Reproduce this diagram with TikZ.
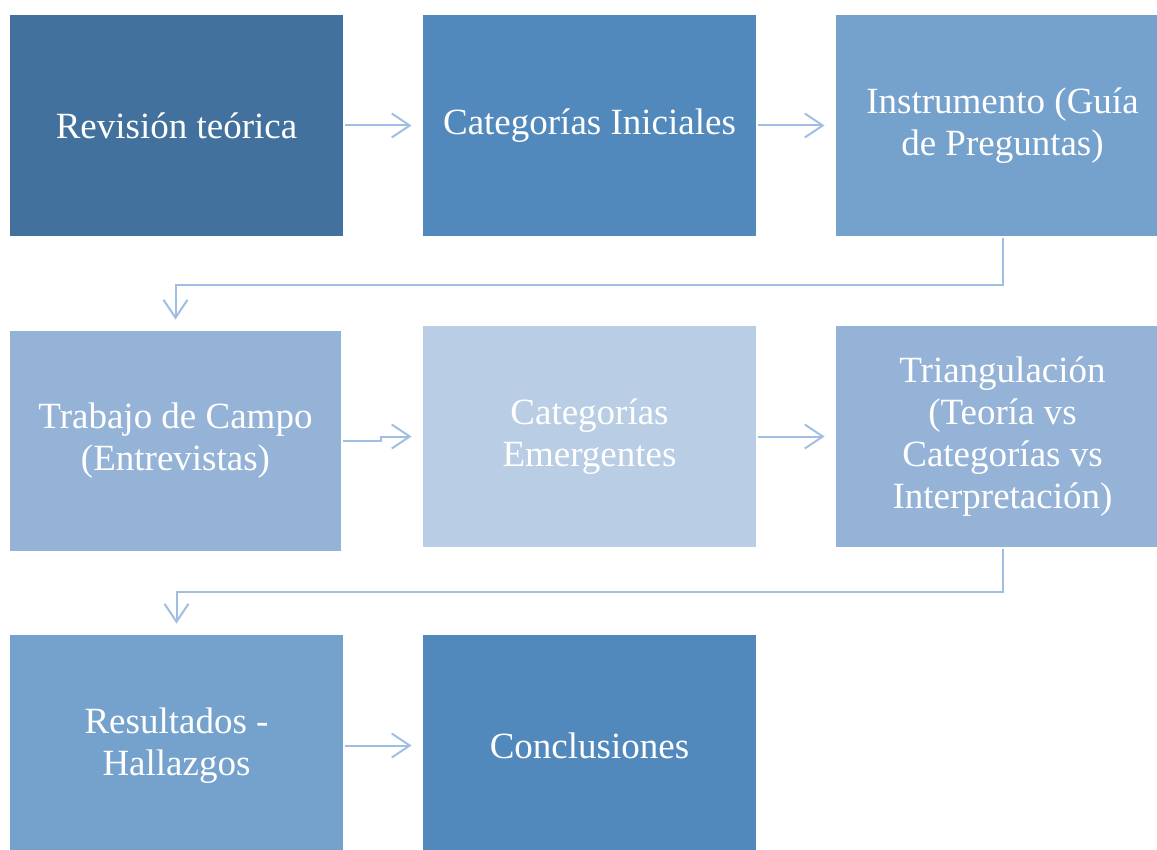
\documentclass[tikz,border=0pt]{standalone}
\usepackage{fontspec}
\setmainfont{Liberation Serif}
\usepackage{xcolor}
\usetikzlibrary{arrows.meta, positioning, calc}
\definecolor{darkblue}{RGB}{65, 113, 156}
\definecolor{midblue}{RGB}{82, 137, 189}
\definecolor{softblue}{RGB}{117, 161, 205}
\definecolor{paleblue}{RGB}{149, 179, 215}
\definecolor{lightblue}{RGB}{185, 205, 229}
\definecolor{linkcolor}{RGB}{160, 190, 225}
\tikzstyle{stagebox} = [rectangle, minimum width=166.5pt, minimum height=110.5pt, inner sep=0pt, align=center, text=white, font=\fontsize{18.5}{21}\selectfont]
\tikzstyle{conn} = [line width=1pt, draw=linkcolor, -{Straight Barb[length=9pt, width=12pt]}, shorten >=5.5pt, shorten <=1pt]

\begin{document}
\begin{tikzpicture}[x=0.5pt, y=-0.5pt]
    \clip (0, 0) rectangle (1157, 850);

    % Row 1
    \node[stagebox, fill=darkblue] (revision) at (176.5, 125.5) {Revisión teórica};
    \node[stagebox, fill=midblue] (iniciales) at (589.5, 125.5) {Categorías Iniciales};
    \node[stagebox, fill=softblue] (instrumento) at (1002.5, 125.5) {Instrumento (Guía\\de Preguntas)};

    % Row 2
    \node[stagebox, fill=paleblue, minimum width=165.5pt, minimum height=110pt] (campo) at (175.5, 441) {Trabajo de Campo\\(Entrevistas)};
    \node[stagebox, fill=lightblue] (emergentes) at (589.5, 436.5) {Categorías\\Emergentes};
    \node[stagebox, fill=paleblue] (triangulacion) at (1002.5, 436.5) {Triangulación\\(Teoría vs\\Categorías vs\\Interpretación)};

    % Row 3
    \node[stagebox, fill=softblue] (resultados) at (176.5, 745.5) {Resultados -\\Hallazgos};
    \node[stagebox, fill=midblue] (conclusiones) at (589.5, 745.5) {Conclusiones};

    % Arrows - Row 1
    \draw[conn] (revision) -- (iniciales);
    \draw[conn] (iniciales) -- (instrumento);
    \draw[conn] (instrumento.south) -- ++(0, 49) -| (campo.north);

    % Arrows - Row 2
    \draw[conn] (campo.east) -- ++(40, 0) |- (emergentes.west);
    \draw[conn] (emergentes) -- (triangulacion);
    \draw[conn] (triangulacion.south) -- ++(0, 45) -| (resultados.north);

    % Arrows - Row 3
    \draw[conn] (resultados) -- (conclusiones);
\end{tikzpicture}
\end{document}
